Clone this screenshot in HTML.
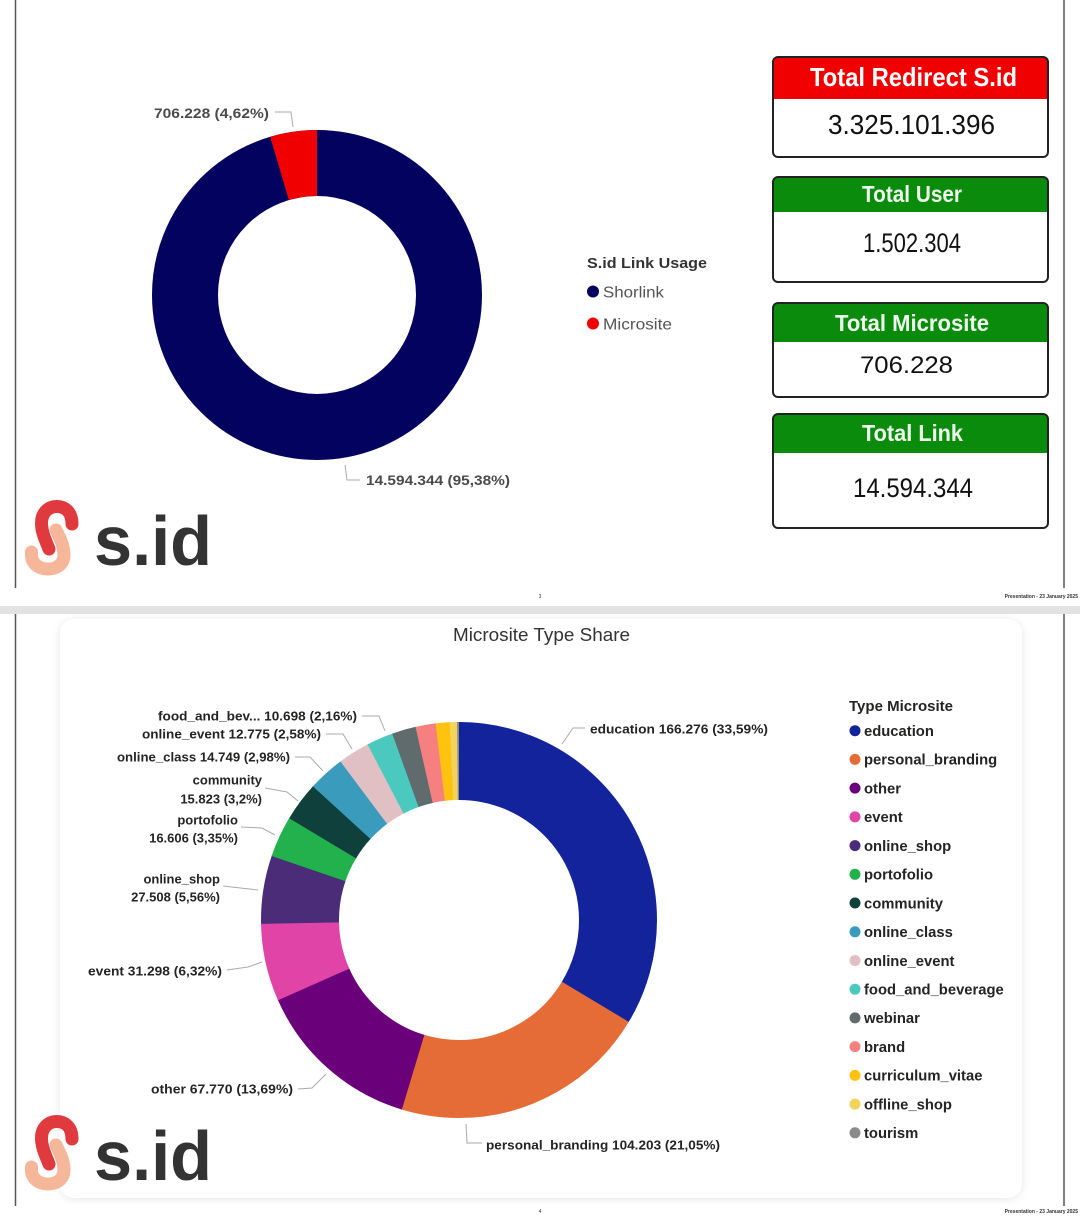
<!DOCTYPE html>
<html><head><meta charset="utf-8"><style>
html,body{margin:0;padding:0;background:#fff;width:1080px;height:1218px;overflow:hidden}
svg{display:block}
text{font-family:"Liberation Sans",Arial,sans-serif}
</style></head><body>
<svg width="1080" height="1218" viewBox="0 0 1080 1218" xmlns="http://www.w3.org/2000/svg">
<defs>
<filter id="sh" x="-5%" y="-5%" width="110%" height="110%">
<feDropShadow dx="0" dy="1" stdDeviation="4" flood-color="#000" flood-opacity="0.10"/>
</filter>
</defs>
<rect width="1080" height="1218" fill="#fff"/>

<!-- ===== PAGE 1 ===== -->
<line x1="15.5" y1="0" x2="15.5" y2="588" stroke="#555" stroke-width="1.5"/>
<line x1="1064" y1="0" x2="1064" y2="588" stroke="#555" stroke-width="1.5"/>

<!-- top donut -->
<circle cx="317" cy="295" r="132" fill="none" stroke="#03035f" stroke-width="66"/>
<circle cx="317" cy="295" r="132" fill="none" stroke="#f00000" stroke-width="66" transform="rotate(-90 317 295)" stroke-dasharray="38.32 829.38" stroke-dashoffset="-791.06"/>
<polyline points="275,112 291,112 293,127" fill="none" stroke="#aaa" stroke-width="1"/>
<text x="154" y="118" font-size="14" font-weight="bold" fill="#4a4a4a" textLength="115" lengthAdjust="spacingAndGlyphs">706.228 (4,62%)</text>
<polyline points="345,465 347,480 360,480" fill="none" stroke="#aaa" stroke-width="1"/>
<text x="366" y="485" font-size="14" font-weight="bold" fill="#4a4a4a" textLength="144" lengthAdjust="spacingAndGlyphs">14.594.344 (95,38%)</text>

<!-- top legend -->
<text x="587" y="268" font-size="15" font-weight="bold" fill="#333" textLength="120" lengthAdjust="spacingAndGlyphs">S.id Link Usage</text>
<circle cx="593" cy="291.5" r="6" fill="#03035f"/>
<text x="603" y="297.5" font-size="16" fill="#555" textLength="61" lengthAdjust="spacingAndGlyphs">Shorlink</text>
<circle cx="593" cy="323.5" r="6" fill="#f00000"/>
<text x="603" y="329.5" font-size="16" fill="#555" textLength="69" lengthAdjust="spacingAndGlyphs">Microsite</text>

<!-- KPI cards -->
<g>
<rect x="773" y="57" width="275" height="100" rx="5" fill="#fff"/>
<path d="M773,99 L773,62 Q773,57 778,57 L1043,57 Q1048,57 1048,62 L1048,99 Z" fill="#f00000"/>
<rect x="773" y="57" width="275" height="100" rx="5" fill="none" stroke="#222" stroke-width="2"/>
<text x="810" y="86" font-size="26" font-weight="bold" fill="#fff" textLength="207" lengthAdjust="spacingAndGlyphs">Total Redirect S.id</text>
<text x="828" y="134" font-size="28" fill="#111" textLength="167" lengthAdjust="spacingAndGlyphs">3.325.101.396</text>
</g>
<g>
<rect x="773" y="177" width="275" height="105" rx="5" fill="#fff"/>
<path d="M773,212 L773,182 Q773,177 778,177 L1043,177 Q1048,177 1048,182 L1048,212 Z" fill="#0b8b0b"/>
<rect x="773" y="177" width="275" height="105" rx="5" fill="none" stroke="#222" stroke-width="2"/>
<text x="862" y="202" font-size="23" font-weight="bold" fill="#eefcee" textLength="100" lengthAdjust="spacingAndGlyphs">Total User</text>
<text x="863" y="252" font-size="27" fill="#111" textLength="98" lengthAdjust="spacingAndGlyphs">1.502.304</text>
</g>
<g>
<rect x="773" y="303" width="275" height="94" rx="5" fill="#fff"/>
<path d="M773,342 L773,308 Q773,303 778,303 L1043,303 Q1048,303 1048,308 L1048,342 Z" fill="#0b8b0b"/>
<rect x="773" y="303" width="275" height="94" rx="5" fill="none" stroke="#222" stroke-width="2"/>
<text x="835" y="331" font-size="23" font-weight="bold" fill="#eefcee" textLength="154" lengthAdjust="spacingAndGlyphs">Total Microsite</text>
<text x="860" y="373" font-size="24" fill="#111" textLength="93" lengthAdjust="spacingAndGlyphs">706.228</text>
</g>
<g>
<rect x="773" y="414" width="275" height="114" rx="5" fill="#fff"/>
<path d="M773,453 L773,419 Q773,414 778,414 L1043,414 Q1048,414 1048,419 L1048,453 Z" fill="#0b8b0b"/>
<rect x="773" y="414" width="275" height="114" rx="5" fill="none" stroke="#222" stroke-width="2"/>
<text x="862" y="441" font-size="23" font-weight="bold" fill="#eefcee" textLength="101" lengthAdjust="spacingAndGlyphs">Total Link</text>
<text x="853" y="497" font-size="27" fill="#111" textLength="120" lengthAdjust="spacingAndGlyphs">14.594.344</text>
</g>

<!-- logo page 1 -->
<g>
<path d="M56,530 C60,538 64,546 64,555 C64,564 57,569 48,569 C38,569 31.5,563 31.5,555 L31.5,552" fill="none" stroke="#f5b69a" stroke-width="13" stroke-linecap="round"/>
<path d="M72,524 C72,512 65,506.5 57,506.5 C48,506.5 41.5,513 41.5,523 C41.5,533 46,541 49,549" fill="none" stroke="#e03a3e" stroke-width="13" stroke-linecap="round"/>
<text x="94" y="565" font-size="70" font-weight="bold" fill="#333" textLength="118" lengthAdjust="spacingAndGlyphs">s.id</text>
</g>

<text x="540" y="598" font-size="5" fill="#333" text-anchor="middle">3</text>
<text x="1078" y="598" font-size="5" fill="#333" text-anchor="end" font-weight="bold">Presentation - 23 January 2025</text>

<!-- separator -->
<rect x="0" y="606" width="1080" height="8" fill="#e2e2e2"/>

<!-- ===== PAGE 2 ===== -->
<line x1="15.5" y1="614" x2="15.5" y2="1206" stroke="#555" stroke-width="1.5"/>
<line x1="1064" y1="614" x2="1064" y2="1206" stroke="#555" stroke-width="1.5"/>

<rect x="60" y="619" width="962" height="579" rx="14" fill="#fff" filter="url(#sh)"/>

<text x="453" y="641" font-size="18" fill="#333" textLength="177" lengthAdjust="spacingAndGlyphs">Microsite Type Share</text>

<!-- bottom donut -->
<g fill="none" stroke-width="78" transform="rotate(-90 459 920)">
<circle cx="459" cy="920" r="159" stroke="#13239c" stroke-dasharray="336.2 999.03" stroke-dashoffset="0"/>
<circle cx="459" cy="920" r="159" stroke="#e66c37" stroke-dasharray="210.9 999.03" stroke-dashoffset="-335.57"/>
<circle cx="459" cy="920" r="159" stroke="#6b007b" stroke-dasharray="137.4 999.03" stroke-dashoffset="-545.87"/>
<circle cx="459" cy="920" r="159" stroke="#e044a7" stroke-dasharray="63.7 999.03" stroke-dashoffset="-682.64"/>
<circle cx="459" cy="920" r="159" stroke="#4a2c78" stroke-dasharray="56.1 999.03" stroke-dashoffset="-745.78"/>
<circle cx="459" cy="920" r="159" stroke="#22b14c" stroke-dasharray="34.1 999.03" stroke-dashoffset="-801.32"/>
<circle cx="459" cy="920" r="159" stroke="#0f403b" stroke-dasharray="32.6 999.03" stroke-dashoffset="-834.79"/>
<circle cx="459" cy="920" r="159" stroke="#3a9bbd" stroke-dasharray="30.4 999.03" stroke-dashoffset="-866.76"/>
<circle cx="459" cy="920" r="159" stroke="#e0c0c3" stroke-dasharray="26.4 999.03" stroke-dashoffset="-896.53"/>
<circle cx="459" cy="920" r="159" stroke="#4cc9bf" stroke-dasharray="22.2 999.03" stroke-dashoffset="-922.31"/>
<circle cx="459" cy="920" r="159" stroke="#5f6b6d" stroke-dasharray="20.1 999.03" stroke-dashoffset="-943.89"/>
<circle cx="459" cy="920" r="159" stroke="#f68080" stroke-dasharray="17.0 999.03" stroke-dashoffset="-963.37"/>
<circle cx="459" cy="920" r="159" stroke="#ffc20e" stroke-dasharray="11.9 999.03" stroke-dashoffset="-979.75"/>
<circle cx="459" cy="920" r="159" stroke="#f2d35b" stroke-dasharray="6.4 999.03" stroke-dashoffset="-991.04"/>
<circle cx="459" cy="920" r="159" stroke="#8a8a8a" stroke-dasharray="2.0 999.03" stroke-dashoffset="-997.03"/>
</g>

<!-- leader lines -->
<g fill="none" stroke="#aaa" stroke-width="1">
<polyline points="362,716 379,716 385,731"/>
<polyline points="326,734 343,734 352,749"/>
<polyline points="295,757 310,757 323,771"/>
<polyline points="265,788 287,792 298,801"/>
<polyline points="241,827 262,828 275,835"/>
<polyline points="223,886 258,890"/>
<polyline points="227,970 248,967 262,962"/>
<polyline points="298,1089 312,1088 326,1074"/>
<polyline points="466,1124 467,1143 482,1143"/>
<polyline points="562,744 573,728 585,728"/>
</g>

<!-- labels -->
<g font-size="13" font-weight="bold" fill="#252423">
<text x="158" y="720.5" textLength="199" lengthAdjust="spacingAndGlyphs">food_and_bev... 10.698 (2,16%)</text>
<text x="142" y="738.5" textLength="179" lengthAdjust="spacingAndGlyphs">online_event 12.775 (2,58%)</text>
<text x="117" y="761.5" textLength="173" lengthAdjust="spacingAndGlyphs">online_class 14.749 (2,98%)</text>
<text x="262" y="784.5" text-anchor="end">community</text>
<text x="262" y="803.5" text-anchor="end">15.823 (3,2%)</text>
<text x="238" y="824.5" text-anchor="end">portofolio</text>
<text x="238" y="842.5" text-anchor="end">16.606 (3,35%)</text>
<text x="220" y="883.5" text-anchor="end">online_shop</text>
<text x="220" y="901.5" text-anchor="end">27.508 (5,56%)</text>
<text x="88" y="975.5" textLength="134" lengthAdjust="spacingAndGlyphs">event 31.298 (6,32%)</text>
<text x="151" y="1093.5" textLength="142" lengthAdjust="spacingAndGlyphs">other 67.770 (13,69%)</text>
<text x="486" y="1149.5" textLength="234" lengthAdjust="spacingAndGlyphs">personal_branding 104.203 (21,05%)</text>
<text x="590" y="733.5" textLength="178" lengthAdjust="spacingAndGlyphs">education 166.276 (33,59%)</text>
</g>

<!-- legend -->
<text x="849" y="711" font-size="15" font-weight="bold" fill="#252423" textLength="104" lengthAdjust="spacingAndGlyphs">Type Microsite</text>
<g font-size="14.8" font-weight="bold" fill="#252423">
<circle cx="855" cy="730.7" r="5.5" fill="#13239c"/><text x="864" y="736">education</text>
<circle cx="855" cy="759.4" r="5.5" fill="#e66c37"/><text x="864" y="764.7">personal_branding</text>
<circle cx="855" cy="788.1" r="5.5" fill="#6b007b"/><text x="864" y="793.4">other</text>
<circle cx="855" cy="816.9" r="5.5" fill="#e044a7"/><text x="864" y="822.2">event</text>
<circle cx="855" cy="845.6" r="5.5" fill="#4a2c78"/><text x="864" y="850.9">online_shop</text>
<circle cx="855" cy="874.3" r="5.5" fill="#22b14c"/><text x="864" y="879.6">portofolio</text>
<circle cx="855" cy="903.0" r="5.5" fill="#0f403b"/><text x="864" y="908.3">community</text>
<circle cx="855" cy="931.8" r="5.5" fill="#3a9bbd"/><text x="864" y="937.1">online_class</text>
<circle cx="855" cy="960.5" r="5.5" fill="#e0c0c3"/><text x="864" y="965.8">online_event</text>
<circle cx="855" cy="989.2" r="5.5" fill="#4cc9bf"/><text x="864" y="994.5">food_and_beverage</text>
<circle cx="855" cy="1017.9" r="5.5" fill="#5f6b6d"/><text x="864" y="1023.2">webinar</text>
<circle cx="855" cy="1046.6" r="5.5" fill="#f68080"/><text x="864" y="1051.9">brand</text>
<circle cx="855" cy="1075.4" r="5.5" fill="#ffc20e"/><text x="864" y="1080.7">curriculum_vitae</text>
<circle cx="855" cy="1104.1" r="5.5" fill="#f2d35b"/><text x="864" y="1109.4">offline_shop</text>
<circle cx="855" cy="1132.8" r="5.5" fill="#8a8a8a"/><text x="864" y="1138.1">tourism</text>
</g>

<!-- logo page 2 -->
<g transform="translate(0,615)">
<path d="M56,530 C60,538 64,546 64,555 C64,564 57,569 48,569 C38,569 31.5,563 31.5,555 L31.5,552" fill="none" stroke="#f5b69a" stroke-width="13" stroke-linecap="round"/>
<path d="M72,524 C72,512 65,506.5 57,506.5 C48,506.5 41.5,513 41.5,523 C41.5,533 46,541 49,549" fill="none" stroke="#e03a3e" stroke-width="13" stroke-linecap="round"/>
<text x="94" y="565" font-size="70" font-weight="bold" fill="#333" textLength="118" lengthAdjust="spacingAndGlyphs">s.id</text>
</g>

<text x="540" y="1213" font-size="5" fill="#333" text-anchor="middle">4</text>
<text x="1078" y="1213" font-size="5" fill="#333" text-anchor="end" font-weight="bold">Presentation - 23 January 2025</text>
</svg>
</body></html>
